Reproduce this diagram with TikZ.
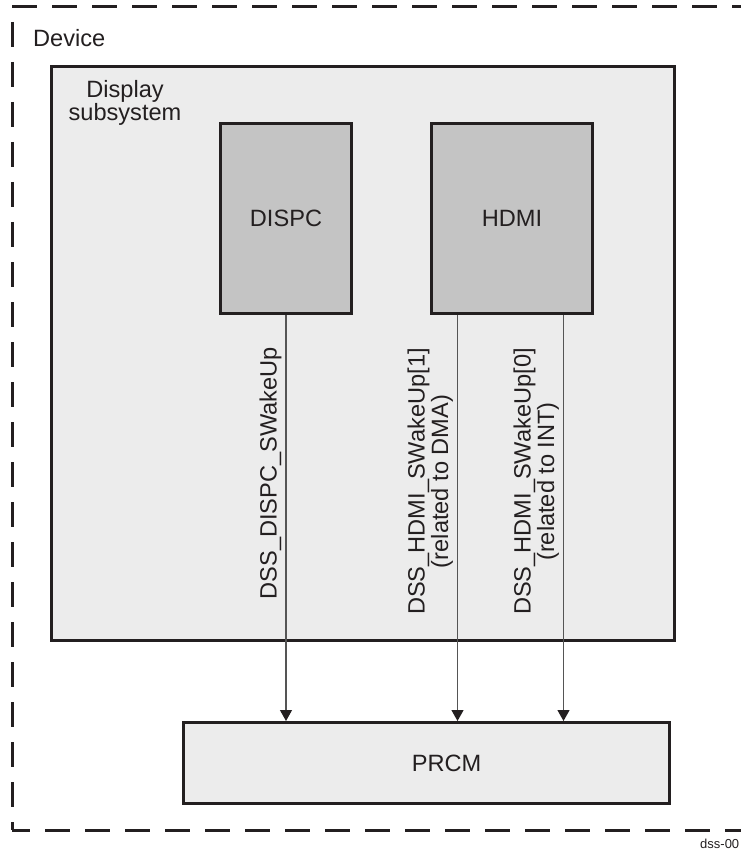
\documentclass[tikz,border=0pt]{standalone}
\usepackage{fontspec}
\setmainfont{Liberation Sans}
\usepackage{tikz}
\usetikzlibrary{arrows.meta,positioning}
\definecolor{dssink}  {RGB}{35, 31, 32}
\definecolor{dsswire} {RGB}{85, 85, 85}
\definecolor{rowlight}{RGB}{236,236,236}
\definecolor{rowdark} {RGB}{196,196,196}
\tikzset{
  blk/.style={draw=dssink,fill=rowlight,line width=3pt,
              minimum width=486pt,minimum height=81pt,inner sep=0pt,
              font=\fontsize{23.6}{23.5}\selectfont,text=dssink},
  blkdark/.style={blk,fill=rowdark,minimum width=131pt,minimum height=190pt},
  devline/.style={draw=dssink,line width=3pt,dash pattern=on 25pt off 15pt},
  arr/.style={-{Triangle[length=11pt,width=12pt,color=dssink]},
              line width=1.2pt,color=dsswire},
  lbl/.style={font=\fontsize{23.6}{23.5}\selectfont,text=dssink,inner sep=0pt},
  sig/.style={lbl,rotate=90,anchor=south,inner sep=4pt,align=center},
}

\begin{document}
\begin{tikzpicture}[x=1pt,y=-1pt]
  \useasboundingbox (0,0) rectangle (740,850);
  % Device boundary
  \draw[devline] (12,7) -- (760,7);
  \draw[devline,dash phase=25pt] (12,7) -- (12,830);
  \draw[devline,dash phase=7pt] (12,830) -- (760,830);
  \node[lbl,anchor=base west] (DEVICE) at (33,47) {Device};

  % Display subsystem
  \node[blk,anchor=north west,minimum width=623pt,minimum height=574pt] (DSS) at (50,65) {};
  \node[lbl,align=center,anchor=north] (DSSNAME) at (125,80) {Display\\subsystem};

  % Modules
  \node[blkdark,anchor=north west] (DISPC) at (219,122) {DISPC};
  \node[blkdark,anchor=north west,minimum width=161pt] (HDMI) at (430,122) {HDMI};

  % PRCM
  \node[blk,anchor=north west,label={[lbl,xshift=20pt]center:PRCM}] (PRCM) at (182,721) {};

  % Wakeup lines
  \coordinate (HDMI_DMA) at ([xshift=-54.5pt]HDMI.south);
  \coordinate (HDMI_INT) at ([xshift=51.5pt]HDMI.south);
  \draw[arr] (DISPC.south) -- (DISPC.south |- PRCM.north)
    node[sig,pos=0.39] {DSS\_DISPC\_SWakeUp};
  \draw[arr] (HDMI_DMA) -- (HDMI_DMA |- PRCM.north)
    node[sig,pos=0.41] {DSS\_HDMI\_SWakeUp[1]\\(related to DMA)};
  \draw[arr] (HDMI_INT) -- (HDMI_INT |- PRCM.north)
    node[sig,pos=0.41] {DSS\_HDMI\_SWakeUp[0]\\(related to INT)};

  \node[lbl,anchor=base west,font=\fontsize{13}{15}\selectfont] (DSSID) at (700,848) {dss-00};
\end{tikzpicture}
\end{document}
